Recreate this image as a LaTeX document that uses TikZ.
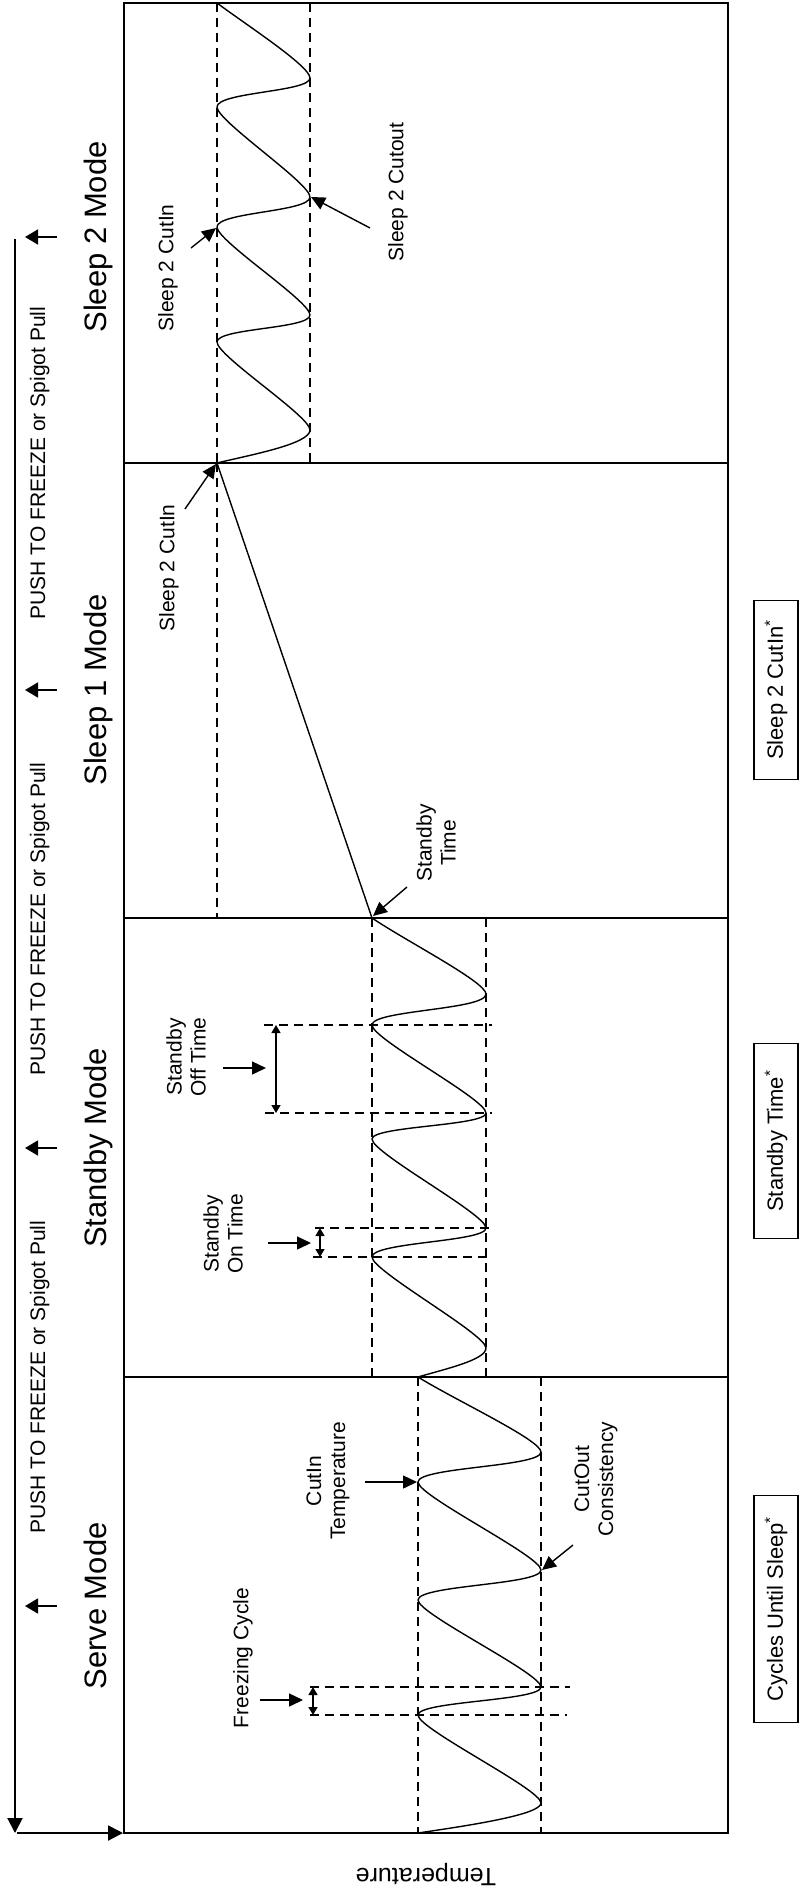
\documentclass[tikz,border=0pt]{standalone}
\usepackage{fontspec}
\setmainfont{Liberation Sans}
\usetikzlibrary{arrows.meta}
\begin{document}
\begin{tikzpicture}[x=1pt,y=-1pt,
  frm/.style={line width=1.8pt},
  sepline/.style={line width=1.6pt},
  wave/.style={line width=1.4pt, line join=round},
  guide/.style={line width=1.2pt, dash pattern=on 9pt off 6pt},
  ptr/.style={line width=1.4pt, -{Triangle[length=14pt,width=13pt]}},
  dbl/.style={line width=1.4pt, {Triangle[length=8pt,width=9pt]}-{Triangle[length=8pt,width=9pt]}},
  axisarrow/.style={line width=2pt, -{Triangle[length=15pt,width=15pt]}},
  evarrow/.style={line width=1.6pt, -{Triangle[length=13pt,width=15pt]}},
  lbl/.style={rotate=90, align=center, inner sep=0pt, font=\fontsize{21}{24}\selectfont},
  modelbl/.style={rotate=90, anchor=base, inner sep=0pt, font=\fontsize{31}{36}\selectfont},
  pushlbl/.style={rotate=90, anchor=base, inner sep=0pt, font=\fontsize{21}{24}\selectfont},
  ebox/.style={draw, line width=1.5pt, rotate=90, inner sep=0pt, minimum height=44pt, font=\fontsize{22}{26}\selectfont},
]
\useasboundingbox (0,0) rectangle (801,1894);

% frame and mode separators
\draw[frm] (124,3) rectangle (728,1833);
\draw[sepline] (124,463) -- (728,463);
\draw[sepline] (124,918) -- (728,918);
\draw[sepline] (124,1377) -- (728,1377);

% dashed set-point lines
\draw[guide] (418,1377) -- (418,1833);
\draw[guide] (541,1377) -- (541,1833);
\draw[guide] (372,918) -- (372,1377);
\draw[guide] (486,918) -- (486,1377);
\draw[guide] (217,463) -- (217,918);
\draw[guide] (217,3) -- (217,463);
\draw[guide] (310,3) -- (310,463);

% dashed time markers
\draw[guide] (310,1687) -- (570,1687);
\draw[guide] (310,1715) -- (567,1715);
\draw[guide] (315,1228) -- (490,1228);
\draw[guide] (313,1257) -- (488,1257);
\draw[guide] (264,1025) -- (492,1025);
\draw[guide] (265,1113) -- (492,1113);

% temperature curve: serve
\draw[wave] (418,1833) .. controls (465,1826) and (541,1815) .. (541,1803)
 .. controls (541,1789) and (418,1729) .. (418,1715)
 .. controls (418,1701) and (541,1701) .. (541,1687)
 .. controls (541,1673) and (418,1614) .. (418,1600)
 .. controls (418,1585) and (541,1585) .. (541,1570)
 .. controls (541,1556) and (418,1496) .. (418,1482)
 .. controls (418,1467) and (541,1467) .. (541,1452)
 .. controls (541,1440) and (455,1400) .. (418,1377);
% standby
\draw[wave] (418,1377) .. controls (445,1369) and (486,1360) .. (486,1348)
 .. controls (486,1334) and (372,1271) .. (372,1257)
 .. controls (372,1242) and (486,1242) .. (486,1228)
 .. controls (486,1214) and (372,1153) .. (372,1139)
 .. controls (372,1126) and (486,1126) .. (486,1113)
 .. controls (486,1099) and (372,1039) .. (372,1025)
 .. controls (372,1010) and (486,1010) .. (486,994)
 .. controls (486,982) and (406,941) .. (372,918);
% sleep 1
\draw[wave] (372,918) -- (217,463);
% sleep 2
\draw[wave] (217,463) .. controls (250,455) and (310,444) .. (310,430)
 .. controls (310,416) and (217,356) .. (217,342)
 .. controls (217,328) and (310,329) .. (310,315)
 .. controls (310,301) and (217,241) .. (217,227)
 .. controls (217,212) and (310,212) .. (310,197)
 .. controls (310,183) and (217,121) .. (217,107)
 .. controls (217,92) and (310,92) .. (310,78)
 .. controls (310,66) and (245,24) .. (217,3);

% target points on the curve
\coordinate (serveL3) at (417,1482);
\coordinate (serveR3) at (542,1570);
\coordinate (sbyEnd) at (373,916);
\coordinate (slpA) at (216,464);
\coordinate (slpB) at (216,228);
\coordinate (slpC) at (311,197);

% labels
\node[lbl] (freeze) at (243,1658) {Freezing Cycle};
\node[lbl] (cutin) at (328,1481) {CutIn\\Temperature};
\node[lbl] (cutout) at (596,1479) {CutOut\\Consistency};
\node[lbl] (ontime) at (223,1234) {Standby\\On Time};
\node[lbl] (offtime) at (186,1057) {Standby\\Off Time};
\node[lbl] (sbytime) at (436,843) {Standby\\Time};
\node[lbl] (s2a) at (169,568) {Sleep 2 CutIn};
\node[lbl] (s2b) at (168,268) {Sleep 2 CutIn};
\node[lbl] (s2c) at (398,192) {Sleep 2 Cutout};

% pointer arrows
\coordinate (pFreeze) at (260,1700);  \coordinate (tFreeze) at (303,1700);
\coordinate (pCutin) at (365,1482);
\coordinate (pCutout) at (573,1545);
\coordinate (pOn) at (268,1243);      \coordinate (tOn) at (311,1243);
\coordinate (pOff) at (223,1068);     \coordinate (tOff) at (266,1068);
\coordinate (pSby) at (407,887);
\coordinate (pSa) at (185,509);
\coordinate (pSb) at (191,248);
\coordinate (pSc) at (370,228);
\draw[ptr] (pFreeze) -- (tFreeze);
\draw[ptr] (pCutin) -- (serveL3);
\draw[ptr] (pCutout) -- (serveR3);
\draw[ptr] (pOn) -- (tOn);
\draw[ptr] (pOff) -- (tOff);
\draw[ptr] (pSby) -- (sbyEnd);
\draw[ptr] (pSa) -- (slpA);
\draw[ptr] (pSb) -- (slpB);
\draw[ptr] (pSc) -- (slpC);

% interval arrows
\coordinate (dFa) at (313,1687); \coordinate (dFb) at (313,1715);
\coordinate (dOa) at (320,1228); \coordinate (dOb) at (320,1257);
\coordinate (dXa) at (276,1025); \coordinate (dXb) at (276,1113);
\draw[dbl] (dFa) -- (dFb);
\draw[dbl] (dOa) -- (dOb);
\draw[dbl] (dXa) -- (dXb);

% time axis and axis arrows
\coordinate (axTop) at (15,239);
\coordinate (axCorner) at (15,1833);
\coordinate (axStart) at (17,1833);
\coordinate (axEnd) at (123,1833);
\draw[axisarrow] (axTop) -- (axCorner);
\draw[axisarrow] (axStart) -- (axEnd);

% event arrows
\foreach \yy/\nm in {237/e1, 690/e2, 1148/e3, 1606/e4} {
  \coordinate (\nm s) at (57,\yy);
  \coordinate (\nm t) at (25,\yy);
  \draw[evarrow] (\nm s) -- (\nm t);
}

% mode names
\node[modelbl] (mServe) at (106,1606) {Serve Mode};
\node[modelbl] (mStandby) at (106,1148) {Standby Mode};
\node[modelbl] (mSleep1) at (106,690) {Sleep 1 Mode};
\node[modelbl] (mSleep2) at (106,237) {Sleep 2 Mode};

% transitions
\node[pushlbl] (push1) at (45,1377) {PUSH TO FREEZE or Spigot Pull};
\node[pushlbl] (push2) at (45,919) {PUSH TO FREEZE or Spigot Pull};
\node[pushlbl] (push3) at (45,463) {PUSH TO FREEZE or Spigot Pull};

% axis label
\node[rotate=180, anchor=base, inner sep=0pt, font=\fontsize{25}{30}\selectfont] (templbl) at (426,1868) {Temperature};

% parameter boxes
\node[ebox, minimum width=227pt] (bCycles) at (776,1609) {Cycles Until Sleep\textsuperscript{*}};
\node[ebox, minimum width=195pt] (bStandby) at (776,1141) {Standby Time\textsuperscript{*}};
\node[ebox, minimum width=179pt] (bSleep) at (776,690) {Sleep 2 CutIn\textsuperscript{*}};
\end{tikzpicture}
\end{document}
